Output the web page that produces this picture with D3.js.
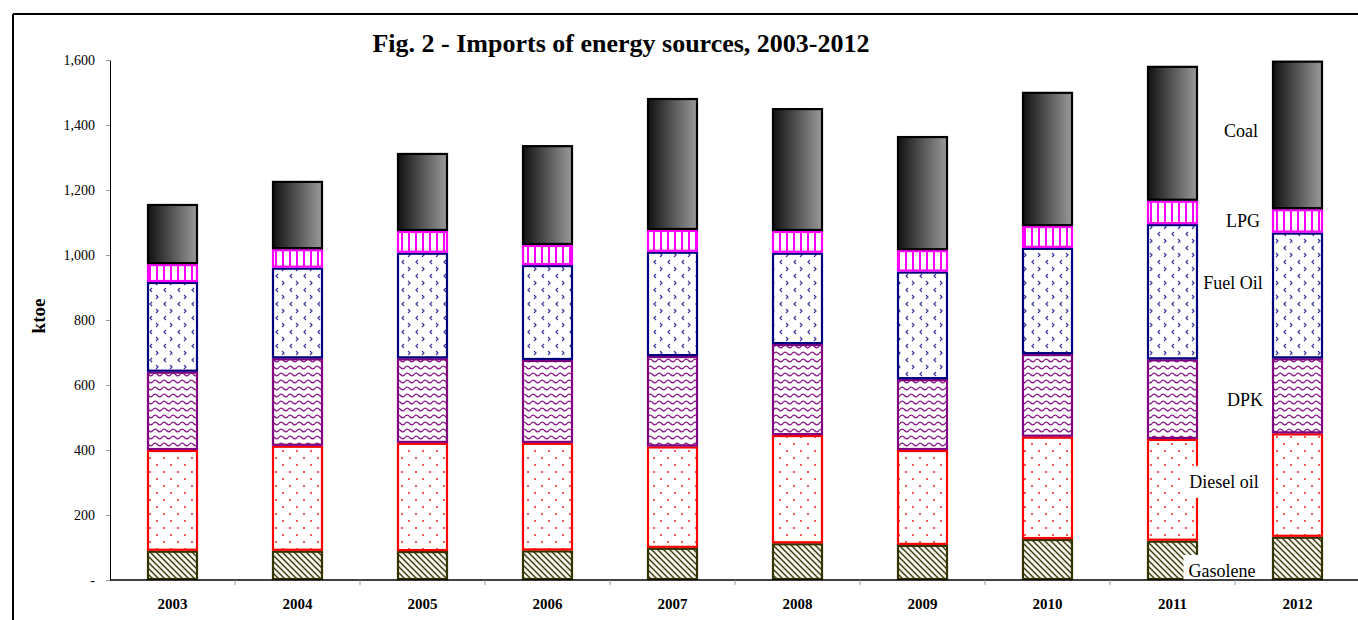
<!DOCTYPE html>
<html>
<head>
<meta charset="utf-8">
<script src="https://cdn.jsdelivr.net/npm/d3@7"></script>
<style>
  html, body { margin: 0; padding: 0; background: #fff; }
  svg { display: block; font-family: "Liberation Serif", "Times New Roman", serif; }
</style>
</head>
<body>
<div id="chart"></div>
<script>
// data (ktoe)
const years = ["2003", "2004", "2005", "2006", "2007", "2008", "2009", "2010", "2011", "2012"];
const gasolene = [90, 90, 89, 91, 99, 113, 108, 126, 121, 133];
const dieselOil = [310, 323, 333, 331, 312, 333, 292, 315, 313, 318];
const dpk = [241, 269, 260, 255, 278, 280, 218, 254, 245, 231];
const fuelOil = [276, 279, 325, 292, 321, 281, 331, 327, 416, 387];
const lpg = [55, 57, 67, 62, 67, 67, 66, 67, 72, 72];
const coal = [185, 210, 240, 307, 406, 378, 351, 413, 415, 457];
const seriesNames = ["Gasolene", "Diesel oil", "DPK", "Fuel Oil", "LPG", "Coal"];
const yTicks = [0, 200, 400, 600, 800, 1000, 1200, 1400, 1600];

const W = 1358, H = 620;
const svg = d3.select("#chart").append("svg").attr("width", W).attr("height", H);
const defs = svg.append("defs");

// fills
const coalGrad = defs.append("linearGradient").attr("id", "coalGrad")
  .attr("x1", "0%").attr("x2", "100%").attr("y1", "0%").attr("y2", "0%");
coalGrad.append("stop").attr("offset", "0%").attr("stop-color", "#111");
coalGrad.append("stop").attr("offset", "100%").attr("stop-color", "#9a9a9a");

const pHatch = defs.append("pattern").attr("id", "pGas").attr("patternUnits", "userSpaceOnUse")
  .attr("width", 6).attr("height", 6);
pHatch.append("rect").attr("width", 6).attr("height", 6).attr("fill", "#f4f4ea");
pHatch.append("path").attr("d", "M-1,-1 L7,7 M-4,2 L2,8 M2,-4 L8,2")
  .attr("stroke", "#3a3a10").attr("stroke-width", 1.4);

const pDots = defs.append("pattern").attr("id", "pDiesel").attr("patternUnits", "userSpaceOnUse")
  .attr("width", 14).attr("height", 14);
pDots.append("rect").attr("width", 14).attr("height", 14).attr("fill", "#fff");
pDots.append("circle").attr("cx", 3).attr("cy", 3).attr("r", 1).attr("fill", "#ff2020");
pDots.append("circle").attr("cx", 10).attr("cy", 10).attr("r", 1).attr("fill", "#ff2020");

const pWave = defs.append("pattern").attr("id", "pDpk").attr("patternUnits", "userSpaceOnUse")
  .attr("width", 9).attr("height", 7);
pWave.append("rect").attr("width", 9).attr("height", 7).attr("fill", "#fff");
pWave.append("path").attr("d", "M0,3.5 Q2.25,0.8 4.5,3.5 T9,3.5")
  .attr("fill", "none").attr("stroke", "#8a1a8a").attr("stroke-width", 1.3);

const pChev = defs.append("pattern").attr("id", "pFuel").attr("patternUnits", "userSpaceOnUse")
  .attr("width", 14).attr("height", 14);
pChev.append("rect").attr("width", 14).attr("height", 14).attr("fill", "#fff");
pChev.append("path").attr("d", "M2,1 L4,3 L2,5 M12,8 L10,10 L12,12")
  .attr("fill", "none").attr("stroke", "#3a3a9a").attr("stroke-width", 1.2);

const pVert = defs.append("pattern").attr("id", "pLpg").attr("patternUnits", "userSpaceOnUse")
  .attr("width", 7).attr("height", 7);
pVert.append("rect").attr("width", 7).attr("height", 7).attr("fill", "#fff");
pVert.append("rect").attr("x", 2).attr("width", 2).attr("height", 7).attr("fill", "#ff00ff");

const fills = ["url(#pGas)", "url(#pDiesel)", "url(#pDpk)", "url(#pFuel)", "url(#pLpg)", "url(#coalGrad)"];
const strokes = ["#333300", "#ff0000", "#800080", "#000080", "#ff00ff", "#000"];

// frame
svg.append("line").attr("x1", 13).attr("x2", W).attr("y1", 14).attr("y2", 14)
  .attr("stroke", "#000").attr("stroke-width", 2);
svg.append("line").attr("x1", 13).attr("x2", 13).attr("y1", 14).attr("y2", H)
  .attr("stroke", "#000").attr("stroke-width", 2);

// scales
const x = d3.scaleBand().domain(years).range([110, 1360]).paddingInner(0.592).paddingOuter(0.296);
const y = d3.scaleLinear().domain([0, 1600]).range([580, 60]);

const table = years.map((yr, i) => ({
  year: yr,
  "Gasolene": gasolene[i], "Diesel oil": dieselOil[i], "DPK": dpk[i],
  "Fuel Oil": fuelOil[i], "LPG": lpg[i], "Coal": coal[i]
}));
const stacked = d3.stack().keys(seriesNames)(table);

// y axis
const yAxis = svg.append("g").attr("transform", "translate(110,0)")
  .call(d3.axisLeft(y).tickValues(yTicks).tickSize(4).tickSizeOuter(0).tickPadding(11)
    .tickFormat(d => d === 0 ? "-" : d3.format(",")(d)));
yAxis.select(".domain").attr("stroke", "#000");
yAxis.selectAll(".tick line").attr("stroke", "#999");
yAxis.selectAll("text").attr("font-family", "Liberation Serif").attr("font-size", 14).attr("fill", "#000");

// bars
const groups = svg.append("g").selectAll("g").data(stacked).join("g");
groups.selectAll("rect").data((s, si) => s.map(d => ({d, si})))
  .join("rect")
  .attr("x", o => x(o.d.data.year) + 1)
  .attr("width", x.bandwidth() - 2)
  .attr("y", o => y(o.d[1]) + 1)
  .attr("height", o => y(o.d[0]) - y(o.d[1]) - 2)
  .attr("fill", o => fills[o.si])
  .attr("stroke", o => strokes[o.si])
  .attr("stroke-width", 2.2);

// series labels at right, on white boxes
const labelSpots = [
  {name: "Gasolene", cx: 1222, v: 28},
  {name: "Diesel oil", cx: 1224, v: 302},
  {name: "DPK", cx: 1245, v: 554},
  {name: "Fuel Oil", cx: 1233, v: 914},
  {name: "LPG", cx: 1243, v: 1105},
  {name: "Coal", cx: 1241, v: 1382}
];
const lab = svg.append("g").selectAll("g").data(labelSpots).join("g");
const labText = lab.append("text")
  .attr("x", d => d.cx).attr("y", d => y(d.v))
  .attr("text-anchor", "middle").attr("dominant-baseline", "central")
  .attr("font-size", 18).attr("fill", "#000")
  .text(d => d.name);
labText.each(function () {
  const b = this.getBBox();
  d3.select(this.parentNode).insert("rect", "text")
    .attr("x", b.x - 5).attr("y", b.y - 6)
    .attr("width", b.width + 14).attr("height", b.height + 12)
    .attr("fill", "#fff");
});

// x axis
const xAxis = svg.append("g").attr("transform", "translate(0,580)")
  .call(d3.axisBottom(x).tickSize(0).tickPadding(18));
xAxis.select(".domain").remove();
xAxis.selectAll("text").attr("font-family", "Liberation Serif").attr("font-size", 15)
  .attr("font-weight", "bold").attr("fill", "#000");
svg.append("rect").attr("x", 1180).attr("y", 581).attr("width", 100).attr("height", 10).attr("fill", "#fff");
svg.append("line").attr("x1", 110).attr("x2", W).attr("y1", 580).attr("y2", 580)
  .attr("stroke", "#000").attr("stroke-width", 1.3);
svg.append("g").selectAll("line").data(years.slice(1))
  .join("line")
  .attr("x1", d => x(d) - x.step() * x.paddingInner() / 2)
  .attr("x2", d => x(d) - x.step() * x.paddingInner() / 2)
  .attr("y1", 580).attr("y2", 585).attr("stroke", "#999");

// title and y label
svg.append("text").attr("x", 621).attr("y", 52).attr("text-anchor", "middle")
  .attr("font-size", 26).attr("font-weight", "bold")
  .text("Fig. 2 - Imports of energy sources, 2003-2012");
svg.append("text").attr("transform", "translate(45,316) rotate(-90)")
  .attr("text-anchor", "middle").attr("font-size", 19).attr("font-weight", "bold")
  .text("ktoe");
</script>
</body>
</html>
